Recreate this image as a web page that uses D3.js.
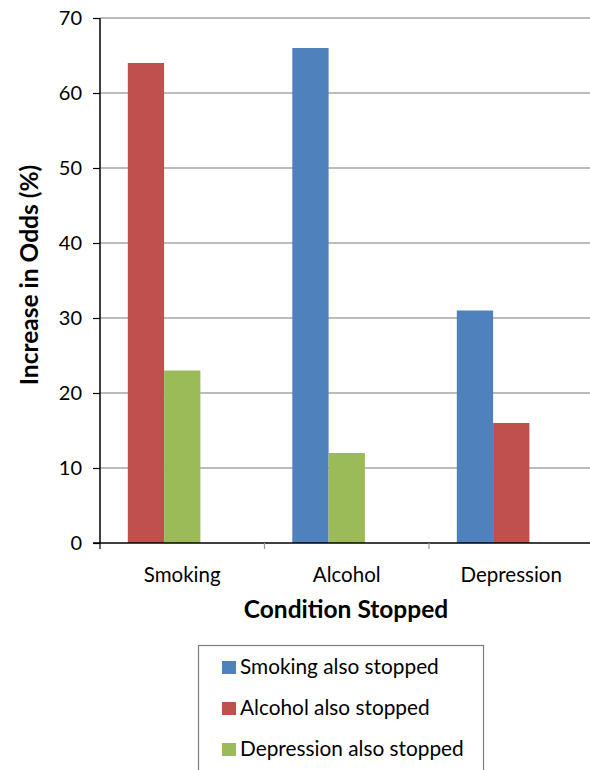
<!DOCTYPE html>
<html>
<head>
<meta charset="utf-8">
<script src="https://cdn.jsdelivr.net/npm/d3@7"></script>
<style>
  html, body { margin: 0; padding: 0; background: #fff; }
  svg { display: block; font-family: Lato, "Open Sans", sans-serif; }
</style>
</head>
<body>
<svg id="chart" width="590" height="770"></svg>
<script>
// Conditions on the x axis and the three series (null = not measured)
const categories = ["Smoking", "Alcohol", "Depression"];
const seriesNames = ["Smoking also stopped", "Alcohol also stopped", "Depression also stopped"];
const smokingAlso = [null, 66, 31];
const alcoholAlso = [64, null, 16];
const depressionAlso = [23, 12, null];
const yTicks = [0, 10, 20, 30, 40, 50, 60, 70];
const colors = ["#4F81BD", "#C0504D", "#9BBB59"];

const seriesValues = [smokingAlso, alcoholAlso, depressionAlso];

const svg = d3.select("#chart");
const plot = { left: 100, right: 593.5, top: 18, bottom: 543 };

const y = d3.scaleLinear().domain([0, 70]).range([plot.bottom, plot.top]);
const x0 = d3.scaleBand().domain(categories).range([plot.left, plot.right]).padding(0);
const x1 = d3.scaleBand().domain([0, 1, 2]).range([0, x0.bandwidth()])
  .paddingInner(0).paddingOuter(0.766);

// Horizontal gridlines
svg.append("g")
  .selectAll("line")
  .data(yTicks.filter(t => t > 0))
  .join("line")
  .attr("x1", plot.left).attr("x2", 590)
  .attr("y1", d => y(d)).attr("y2", d => y(d))
  .attr("stroke", "#A6A6A6").attr("stroke-width", 1.5);

// Bars: within each condition, the measured series fill slots left to right
const barData = [];
categories.forEach((cat, ci) => {
  let slot = 0;
  seriesValues.forEach((vals, si) => {
    if (vals[ci] != null) {
      barData.push({ cat, si, slot, value: vals[ci] });
      slot++;
    }
  });
});

svg.append("g")
  .selectAll("rect")
  .data(barData)
  .join("rect")
  .attr("x", d => x0(d.cat) + x1(d.slot))
  .attr("y", d => y(d.value))
  .attr("width", x1.bandwidth())
  .attr("height", d => y(0) - y(d.value))
  .attr("fill", d => colors[d.si]);

// Y axis
const yAxis = svg.append("g")
  .attr("transform", `translate(${plot.left},0)`)
  .call(d3.axisLeft(y).tickValues(yTicks).tickSize(7).tickPadding(11).tickFormat(d3.format("d")));
yAxis.select(".domain").attr("stroke", "#000").attr("stroke-width", 1.5)
  .attr("d", `M0,${plot.top}V${plot.bottom}`);
yAxis.selectAll(".tick line").attr("stroke", "#000").attr("stroke-width", 1.2);
yAxis.selectAll(".tick text").attr("font-size", 20).attr("fill", "#000")
  .attr("font-family", "Lato, sans-serif");

// X axis
const xAxisG = svg.append("g").attr("transform", `translate(0,${plot.bottom})`);
xAxisG.append("line")
  .attr("x1", plot.left - 7).attr("x2", 590)
  .attr("y1", 0).attr("y2", 0)
  .attr("stroke", "#000").attr("stroke-width", 1.5);
xAxisG.selectAll(".sep")
  .data(categories)
  .join("line")
  .attr("class", "sep")
  .attr("x1", d => x0(d)).attr("x2", d => x0(d))
  .attr("y1", 0).attr("y2", 6)
  .attr("stroke", d => d === categories[0] ? "#000" : "#999").attr("stroke-width", 1.2);
xAxisG.selectAll(".cat")
  .data(categories)
  .join("text")
  .attr("class", "cat")
  .attr("x", d => x0(d) + x0.bandwidth() / 2)
  .attr("y", 39)
  .attr("text-anchor", "middle")
  .attr("font-size", 20.5)
  .attr("fill", "#000")
  .text(d => d);

// Axis titles
svg.append("text")
  .attr("x", 346).attr("y", 618)
  .attr("text-anchor", "middle")
  .attr("font-size", 24.5).attr("font-weight", "bold")
  .text("Condition Stopped");

svg.append("text")
  .attr("transform", "translate(38,275) rotate(-90)")
  .attr("text-anchor", "middle")
  .attr("font-size", 24.5).attr("font-weight", "bold")
  .text("Increase in Odds (%)");

// Legend
const legend = svg.append("g");
legend.append("rect")
  .attr("x", 198.5).attr("y", 645.5)
  .attr("width", 285).attr("height", 140)
  .attr("fill", "#fff").attr("stroke", "#7F7F7F").attr("stroke-width", 1.2);
const items = legend.selectAll(".item")
  .data(seriesNames)
  .join("g")
  .attr("class", "item")
  .attr("transform", (d, i) => `translate(222,${667.5 + i * 41})`);
items.append("rect")
  .attr("x", 0).attr("y", -6.5)
  .attr("width", 14).attr("height", 13)
  .attr("fill", (d, i) => colors[i]);
items.append("text")
  .attr("x", 18).attr("y", 6.5)
  .attr("font-size", 20.8)
  .attr("fill", "#000")
  .text(d => d);
</script>
</body>
</html>
